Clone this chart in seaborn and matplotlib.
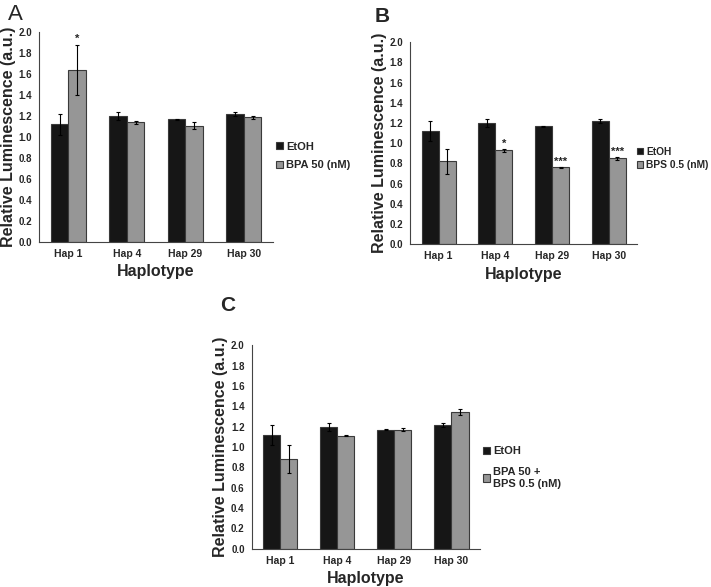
"""Relative luminescence per haplotype, three treatment panels."""

import matplotlib
matplotlib.use("Agg")
import matplotlib.pyplot as plt
import numpy as np
import pandas as pd
import seaborn as sns

HAPLOTYPES = ["Hap 1", "Hap 4", "Hap 29", "Hap 30"]

ETOH_MEAN = [1.12, 1.20, 1.17, 1.22]
ETOH_ERR = [0.10, 0.04, 0.005, 0.02]

BPA_MEAN = [1.64, 1.14, 1.11, 1.19]
BPA_ERR = [0.24, 0.012, 0.03, 0.015]
BPA_STARS = ["*", "", "", ""]

BPS_MEAN = [0.82, 0.93, 0.76, 0.85]
BPS_ERR = [0.12, 0.012, 0.005, 0.015]
BPS_STARS = ["", "*", "***", "***"]

MIX_MEAN = [0.88, 1.11, 1.17, 1.34]
MIX_ERR = [0.14, 0.005, 0.015, 0.03]
MIX_STARS = ["", "", "", ""]

BLACK = "#161616"
GREY = "#969696"


def draw_panel(ax, treat_label, treat_mean, treat_err, stars, spacing, leg_pos, leg_size=8):
    df = pd.DataFrame(
        {
            "Haplotype": HAPLOTYPES * 2,
            "group": ["EtOH"] * 4 + [treat_label] * 4,
            "value": ETOH_MEAN + treat_mean,
        }
    )
    sns.barplot(
        data=df, x="Haplotype", y="value", hue="group",
        palette=[BLACK, GREY], width=0.6, errorbar=None, ax=ax,
        edgecolor="#3a3a3a", linewidth=0.8, saturation=1,
    )
    errs = ETOH_ERR + treat_err
    labels = [""] * 4 + stars
    bars = [p for p in ax.patches if p.get_height() > 0][:8]
    for bar, err, star in zip(bars, errs, labels):
        xc = bar.get_x() + bar.get_width() / 2
        h = bar.get_height()
        ax.errorbar(xc, h, yerr=err, color="black", lw=0.8, capsize=1.2, capthick=0.8)
        if star:
            ax.text(xc, h + err + 0.005, star, ha="center", va="bottom",
                    fontsize=8, fontweight="bold")
    ax.set_ylim(0, 2.0)
    ax.set_xlim(-0.5, 3.5)
    ax.set_yticks(np.arange(0, 2.01, 0.2))
    ax.set_yticklabels([f"{v:.1f}" for v in np.arange(0, 2.01, 0.2)])
    ax.set_xlabel("Haplotype", fontsize=11.5, fontweight="bold", labelpad=4)
    ax.set_ylabel("Relative Luminescence (a.u.)", fontsize=11.5, fontweight="bold", labelpad=2)
    ax.tick_params(axis="y", labelsize=7, length=3, width=0.8, pad=2)
    ax.tick_params(axis="x", labelsize=7.5, length=0, pad=5)
    for lab in ax.get_xticklabels() + ax.get_yticklabels():
        lab.set_fontweight("bold")
    for side in ["top", "right"]:
        ax.spines[side].set_visible(False)
    for side in ["left", "bottom"]:
        ax.spines[side].set_color("#444444")
        ax.spines[side].set_linewidth(0.8)
    leg = ax.legend(
        loc="center left", bbox_to_anchor=leg_pos, frameon=False,
        fontsize=leg_size, handlelength=0.6, handleheight=0.6, handletextpad=0.3,
        labelspacing=spacing, borderaxespad=0.1, borderpad=0.2,
    )
    for t in leg.get_texts():
        t.set_fontweight("bold")


sns.set_style("white")
plt.rcParams["font.family"] = ["Liberation Sans", "DejaVu Sans"]

fig = plt.figure(figsize=(7.11, 5.87), dpi=100)
ax_a = fig.add_axes([0.055, 0.588, 0.329, 0.357])
ax_b = fig.add_axes([0.577, 0.584, 0.319, 0.344])
ax_c = fig.add_axes([0.354, 0.065, 0.321, 0.347])

draw_panel(ax_a, "BPA 50 (nM)", BPA_MEAN, BPA_ERR, BPA_STARS, 0.75, (1.0, 0.41))
draw_panel(ax_b, "BPS 0.5 (nM)", BPS_MEAN, BPS_ERR, BPS_STARS, 0.3, (0.985, 0.425), 7.4)
draw_panel(ax_c, "BPA 50 +\nBPS 0.5 (nM)", MIX_MEAN, MIX_ERR, MIX_STARS, 1.0, (1.0, 0.40))

fig.text(0.011, 0.975, "A", fontsize=16, va="center")
fig.text(0.527, 0.972, "B", fontsize=15, fontweight="bold", va="center")
fig.text(0.309, 0.48, "C", fontsize=15, fontweight="bold", va="center")

fig.savefig("out.png", dpi=100)
